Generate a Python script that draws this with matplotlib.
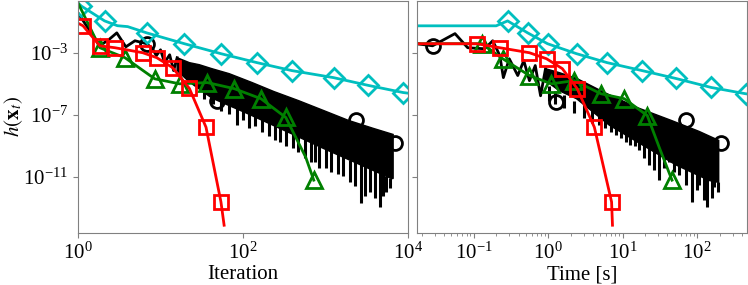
import matplotlib
matplotlib.use("Agg")
import matplotlib.pyplot as plt
import numpy as np
from matplotlib.ticker import LogLocator, NullLocator, NullFormatter

plt.rcParams['font.family'] = 'serif'
plt.rcParams['font.serif'] = ['Liberation Serif', 'DejaVu Serif']
plt.rcParams['mathtext.fontset'] = 'stix'
plt.rcParams['font.size'] = 15
plt.rcParams['axes.edgecolor'] = '0.5'
plt.rcParams['xtick.color'] = '0.5'
plt.rcParams['ytick.color'] = '0.5'
plt.rcParams['xtick.labelcolor'] = 'black'
plt.rcParams['ytick.labelcolor'] = 'black'

# ---------------- left panel: h(x_t) vs iteration ----------------
# cyan (diamonds)
it_cyan = [1, 1.1, 2.1, 3.0, 4.0, 6.8, 19.5, 54, 148, 390, 1250, 3300, 8700, 12000]
h_cyan = [1.6, 1.0, 0.112, 0.055, 0.048, 0.019, 3.8e-3, 8.7e-4, 2.3e-4, 7.1e-5, 2.5e-5, 7.9e-6, 2.75e-6, 2.2e-6]
# red (squares)
it_red = [1, 1.15, 1.84, 2.8, 6.1, 9.0, 14, 22.4, 35.6, 54, 59]
h_red = [0.08, 0.054, 2.8e-3, 2.1e-3, 1.0e-3, 4.8e-4, 1.1e-4, 5.0e-6, 1.6e-8, 2.5e-13, 7.9e-15]
# green (triangles)
it_green = [1, 1.84, 3.7, 8.5, 17, 37, 78, 165, 330, 575, 720]
h_green = [1.6, 2.1e-3, 4.8e-4, 2.1e-5, 1.0e-5, 1.2e-5, 4.9e-6, 1.1e-6, 6.8e-8, 1.9e-10, 6.3e-12]
# black (circles): early oscillations, then a dense oscillating band with deep spikes
it_black = [1, 1.84, 2.43, 2.95, 3.8, 4.9, 6.8, 8.0, 8.9, 10, 11.2, 12.9, 14.4, 15.9]
h_black = [0.36, 2.8e-3, 7.9e-3, 0.019, 2.4e-3, 5.9e-3, 3.8e-3, 1.8e-3, 6.5e-4, 1.55e-3, 2.3e-4, 7.4e-4, 7.1e-5, 4.8e-4]
it_black_circ = [6.8, 49, 2350, 6900]
h_black_circ = [3.8e-3, 8.3e-7, 4.4e-8, 1.5e-9]
it_band_hi = [15.9, 22.4, 29.5, 42, 68, 129, 236, 470, 950, 1900, 3800, 6600]
h_band_hi = [4.8e-4, 2.3e-4, 1.7e-4, 9.4e-5, 4.5e-5, 1.2e-5, 3.2e-6, 8.3e-7, 1.9e-7, 4.4e-8, 1.35e-8, 5.5e-9]
it_band_lo = [15.9, 22.4, 42, 110, 390, 1000, 2500, 6300, 6600]
h_band_lo = [7.1e-5, 1.3e-5, 1.2e-6, 1.3e-7, 6.0e-9, 6.0e-10, 7.0e-11, 8.0e-12, 8.0e-12]
it_spike = [33.9, 43.5, 54, 67.8, 85, 100, 118, 140, 170, 206, 243, 279, 331, 400, 470, 558, 660,
            737, 824, 1000, 1180, 1400, 1650, 2000, 2300, 2720, 3030, 3480, 4000, 4600, 5000, 5430, 6070]
h_spike_tip = [1.1e-6, 4.7e-7, 1.9e-7, 1.07e-7, 2.4e-8, 4.4e-8, 1.35e-8, 1.8e-8, 7.4e-9, 4.1e-9, 2.3e-9,
               1.7e-9, 9.3e-10, 7.1e-10, 3.9e-10, 1.6e-10, 8.9e-11, 8.9e-11, 3.6e-11, 3.6e-11, 2.0e-11,
               1.5e-11, 1.1e-11, 4.7e-12, 2.6e-12, 2.1e-13, 5.9e-13, 1.07e-12, 4.4e-13, 1.15e-13,
               5.9e-13, 1.07e-12, 1.9e-12]
h_spike_top = [4.9e-6, 1.5e-6, 1.1e-6, 4.7e-7, 2.6e-7, 1.9e-7, 1.4e-7, 1.07e-7, 7.9e-8, 4.4e-8, 2.4e-8,
               1.8e-8, 1.0e-8, 7.4e-9, 5.5e-9, 3.1e-9, 2.3e-9, 1.7e-9, 9.3e-10, 9.3e-10, 5.2e-10,
               3.9e-10, 2.1e-10, 1.2e-10, 1.2e-10, 6.6e-11, 6.6e-11, 3.6e-11, 3.6e-11, 2.0e-11,
               2.0e-11, 1.1e-11, 8.3e-12]

# ---------------- right panel: h(x_t) vs time ----------------
t_cyan = [0.017, 0.2, 0.285, 0.53, 0.98, 2.4, 6.2, 18.2, 52, 155, 447, 520]
ht_cyan = [0.054, 0.054, 0.112, 0.019, 3.8e-3, 8.7e-4, 2.3e-4, 7.1e-5, 2.2e-5, 5.8e-6, 2.3e-6, 2.1e-6]
t_red = [0.017, 0.11, 0.224, 0.56, 0.95, 1.55, 2.45, 4.17, 7.1, 7.3]
ht_red = [3.8e-3, 3.8e-3, 2.1e-3, 1.0e-3, 4.1e-4, 9.4e-5, 4.9e-6, 1.6e-8, 2.5e-13, 7.9e-15]
t_green = [0.017, 0.13, 0.245, 0.56, 1.1, 2.24, 5.1, 10.5, 21.4, 31, 46]
ht_green = [3.8e-3, 3.8e-3, 4.1e-4, 3.4e-5, 1.0e-5, 1.6e-5, 2.3e-6, 1.1e-6, 9.1e-8, 8.1e-10, 6.3e-12]
t_black = [0.017, 0.028, 0.056, 0.083, 0.14, 0.18, 0.224, 0.25, 0.3, 0.39, 0.47, 0.56, 0.67, 0.79, 0.92]
ht_black = [3.8e-3, 2.8e-3, 0.017, 2.1e-3, 1.8e-3, 5.9e-3, 6.5e-4, 2.5e-5, 4.1e-4, 3.4e-5, 3.1e-4,
            1.6e-5, 1.5e-4, 1.7e-6, 9.4e-5]
t_black_circ = [0.028, 1.29, 71, 209]
ht_black_circ = [2.8e-3, 6.3e-7, 4.4e-8, 1.5e-9]
t_band_hi = [0.92, 1.42, 2.47, 5.7, 15.7, 45, 106, 195]
ht_band_hi = [9.4e-5, 5.2e-5, 2.1e-5, 2.75e-6, 2.95e-7, 4.4e-8, 8.7e-9, 2.3e-9]
t_band_lo = [0.92, 1.42, 2.4, 6.6, 18.2, 52, 145, 195]
ht_band_lo = [1.6e-5, 3.5e-6, 1.1e-6, 2.2e-8, 1.2e-9, 6.0e-11, 6.0e-12, 4.5e-12]
t_spike = [1.04, 1.25, 1.65, 2.25, 3.06, 3.92, 4.87, 5.85, 7.0, 8.2, 9.6, 11.2, 12.6, 14.7, 16.7, 19.5,
           22.7, 26.5, 30.9, 36, 42, 49, 57, 71, 85.5, 100, 106, 124, 136, 158, 168, 190]
ht_spike_tip = [8.3e-7, 4.7e-7, 2.6e-7, 1.4e-7, 5.9e-8, 3.2e-8, 2.1e-8, 1.35e-8, 7.4e-9, 4.8e-9, 3.5e-9,
                1.7e-9, 1.1e-9, 9.3e-10, 5.2e-10, 1.6e-10, 5.7e-11, 2.7e-11, 6.3e-12, 3.6e-11, 8.9e-11,
                2.0e-11, 1.3e-11, 2.95e-12, 2.4e-13, 1.4e-12, 2.95e-12, 3.3e-13, 1.15e-13, 4.4e-13,
                2.2e-12, 1.07e-12]
ht_spike_top = [7.6e-6, 3.6e-6, 2.0e-6, 8.3e-7, 4.7e-7, 2.6e-7, 1.4e-7, 7.9e-8, 4.4e-8, 3.2e-8, 1.8e-8,
                1.35e-8, 7.4e-9, 5.5e-9, 3.1e-9, 2.3e-9, 1.26e-9, 9.3e-10, 5.2e-10, 3.9e-10, 2.1e-10,
                1.6e-10, 8.9e-11, 6.6e-11, 3.6e-11, 2.7e-11, 2.0e-11, 1.5e-11, 1.1e-11, 8.3e-12,
                6.3e-12, 4.7e-12]

lw = 2
fig = plt.figure(figsize=(7.48, 2.85), dpi=100)
ax1 = fig.add_axes([0.1043, 0.1825, 0.4412, 0.814])
ax2 = fig.add_axes([0.5575, 0.1825, 0.4410, 0.814], sharey=ax1)


def draw_panel(ax, bx, by, cx, cy, hx, hy, lx, ly, sx, stip, stop,
               xc, yc, xg, yg, xr, yr, mk_c, mk_g, mk_r):
    # black: early oscillation, dense band, deep spikes, circles
    ax.plot(bx, by, color='k', lw=lw)
    ax.fill(list(hx) + list(lx)[::-1], list(hy) + list(ly)[::-1], color='k', lw=1)
    ax.vlines(sx, stip, stop, color='k', lw=2.2)
    ax.plot(cx, cy, 'o', color='k', ms=10, mfc='none', mew=2)
    ax.plot(xc, yc, color='c', lw=lw, marker='D', ms=10, mfc='none', mew=2, markevery=mk_c)
    ax.plot(xg, yg, color='g', lw=lw, marker='^', ms=11, mfc='none', mew=2, markevery=mk_g)
    ax.plot(xr, yr, color='r', lw=lw, marker='s', ms=10, mfc='none', mew=2, markevery=mk_r)
    ax.set_xscale('log')
    ax.set_yscale('log')


draw_panel(ax1, it_black, h_black, it_black_circ, h_black_circ,
           it_band_hi, h_band_hi, it_band_lo, h_band_lo, it_spike, h_spike_tip, h_spike_top,
           it_cyan, h_cyan, it_green, h_green, it_red, h_red,
           [1, 2, 5, 6, 7, 8, 9, 10, 11, 12], [1, 2, 3, 4, 5, 6, 7, 8, 10], list(range(1, 10)))
draw_panel(ax2, t_black, ht_black, t_black_circ, ht_black_circ,
           t_band_hi, ht_band_hi, t_band_lo, ht_band_lo, t_spike, ht_spike_tip, ht_spike_top,
           t_cyan, ht_cyan, t_green, ht_green, t_red, ht_red,
           list(range(2, 11)), list(range(1, 9)) + [10], list(range(1, 9)))

ax1.set_ylim(2.5e-15, 2.14)
ax1.set_yticks([1e-3, 1e-7, 1e-11])
ax1.yaxis.set_minor_locator(NullLocator())
ax1.set_xlim(1, 1e4)
ax1.set_xticks([1, 1e2, 1e4])
ax1.xaxis.set_minor_locator(NullLocator())
ax1.set_xlabel('Iteration', labelpad=1)
ax1.set_ylabel(r'$h(\mathbf{x}_t)$')
ax1.yaxis.set_label_coords(-0.16, 0.5)

ax2.set_xlim(0.0173, 466)
ax2.set_xticks([0.1, 1, 10, 100])
ax2.xaxis.set_minor_locator(LogLocator(base=10, subs=np.arange(2, 10), numticks=20))
ax2.xaxis.set_minor_formatter(NullFormatter())
ax2.tick_params(axis='y', labelleft=False)
ax2.set_xlabel('Time [s]', labelpad=1)

fig.savefig('out.png', dpi=100)
